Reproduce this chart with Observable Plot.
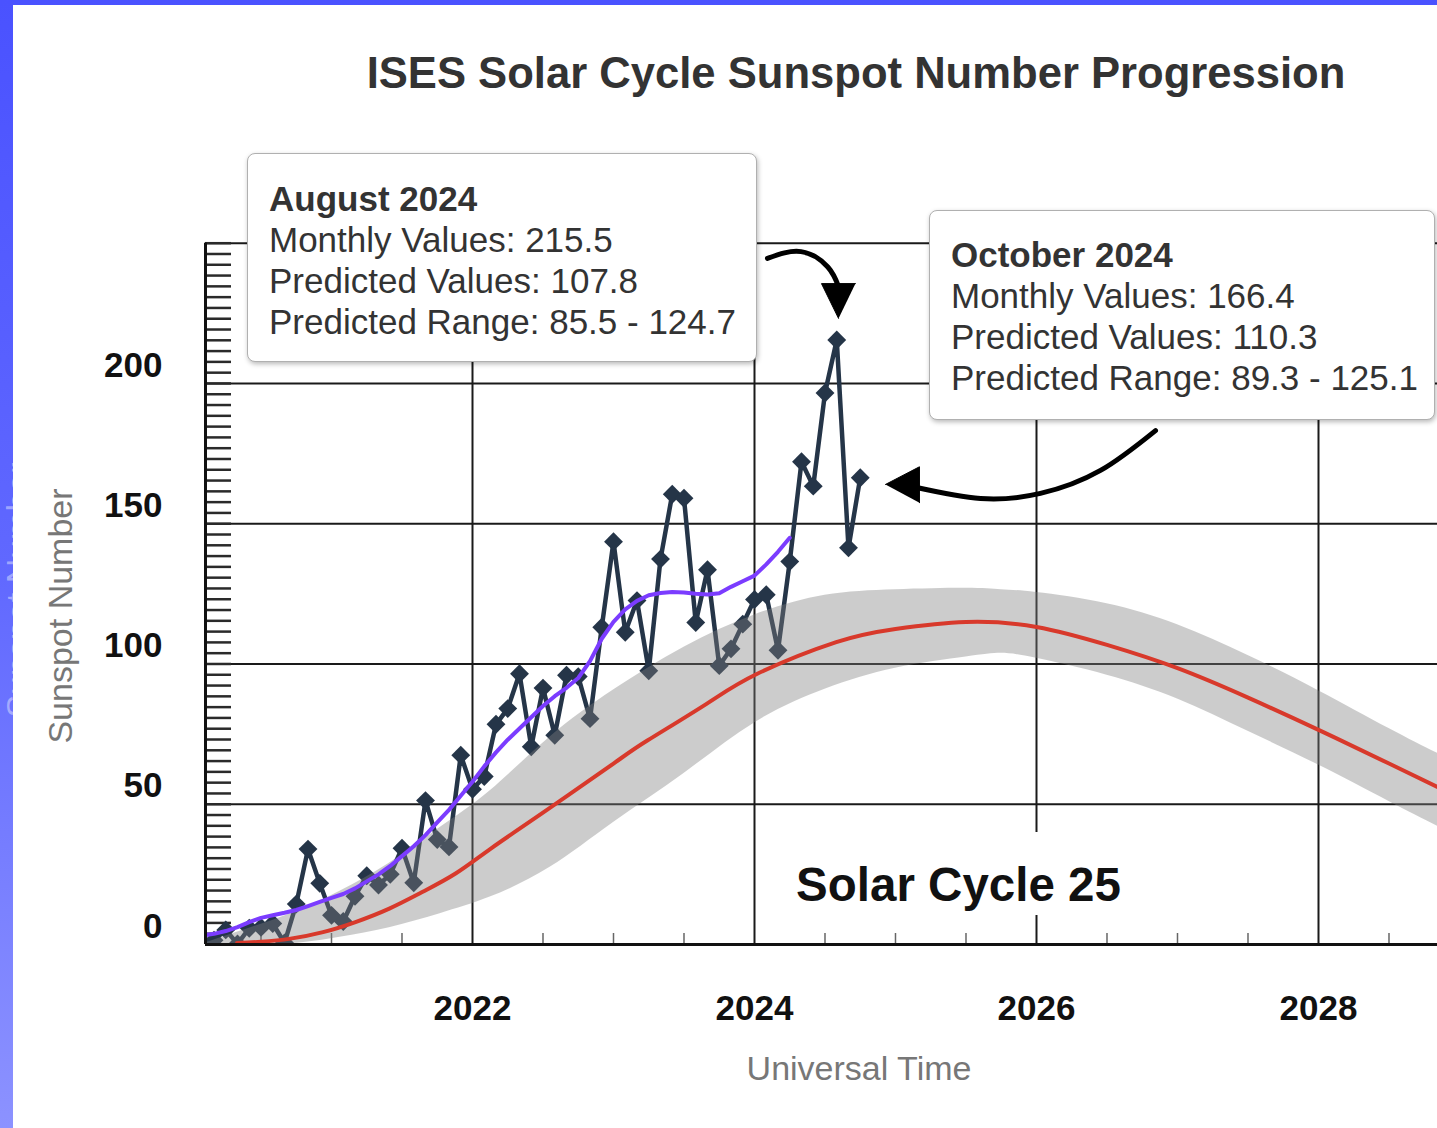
<!DOCTYPE html>
<html>
<head>
<meta charset="utf-8">
<script src="https://cdn.jsdelivr.net/npm/d3@7"></script>
<script src="https://cdn.jsdelivr.net/npm/@observablehq/plot@0.6"></script>
<style>
html,body{margin:0;padding:0;width:1437px;height:1128px;overflow:hidden;}
body{position:relative;background:linear-gradient(to bottom,#4a52ff 0%,#6068ff 50%,#8c92ff 100%);font-family:"Liberation Sans",Arial,Helvetica,sans-serif;}
#ghost{position:absolute;left:18px;top:590px;transform:translate(-50%,-50%) rotate(-90deg);font-size:34px;color:rgba(215,220,255,0.55);white-space:nowrap;z-index:0;}
#panel{position:absolute;left:13px;top:5px;width:1424px;height:1123px;background:#fff;overflow:hidden;z-index:1;}
#chart{position:absolute;left:0;top:0;}
.abs{position:absolute;white-space:nowrap;}
#title{left:243px;width:1200px;top:44px;text-align:center;font-size:43.6px;font-weight:bold;color:#333;line-height:normal;}
.axt{font-size:34px;color:#777;line-height:normal;transform:translate(-50%,-50%);}
#ytitle{left:47px;top:611px;transform:translate(-50%,-50%) rotate(-90deg);}
#xtitle{left:846px;top:1063px;}
#cycle{left:773px;top:827px;width:345px;height:83px;background:#fff;text-align:center;}
#cycle span{display:block;padding-top:25px;font-size:47.5px;font-weight:bold;color:#111;line-height:normal;}
.box{position:absolute;background:#fff;border:1.5px solid #b0b0b0;border-radius:8px;box-shadow:1px 2px 5px rgba(0,0,0,0.28);box-sizing:border-box;color:#333;font-size:35px;line-height:41px;padding-left:21px;white-space:nowrap;}
.box b{font-weight:bold;}
#boxAug{left:234px;top:148px;width:510px;height:209px;padding-top:24px;}
#boxOct{left:916px;top:205px;width:506px;height:210px;padding-top:23px;}
</style>
</head>
<body>
<div id="ghost">Sunspot Number</div>
<div id="panel">
  <div id="chart"></div>
  <div id="title" class="abs">ISES Solar Cycle Sunspot Number Progression</div>
  <div id="ytitle" class="abs axt">Sunspot Number</div>
  <div id="xtitle" class="abs axt">Universal Time</div>
  <div id="cycle" class="abs"><span>Solar Cycle 25</span></div>
  <div id="boxAug" class="box"></div>
  <div id="boxOct" class="box"></div>
</div>
<script>
// ---------- data ----------
// Observed monthly sunspot numbers, Jan 2020 .. Oct 2024
const monthlyStartYear = 2020;
const monthlyValues = [
  6.2, 0.2, 1.5, 5.2, 0.2, 5.8, 6.1, 7.5, 0.6, 14.4, 34.0, 21.8,
  10.4, 8.2, 17.2, 24.5, 21.2, 25.0, 34.3, 22.0, 51.3, 37.4, 34.8, 67.5,
  55.3, 59.9, 78.5, 84.1, 96.5, 70.5, 91.4, 74.6, 96.0, 95.5, 80.5, 113.1,
  143.6, 111.3, 122.6, 97.6, 137.4, 160.5, 159.1, 114.8, 133.6, 99.4, 105.4, 114.2,
  123.0, 124.7, 104.9, 136.5, 172.1, 163.4, 196.6, 215.5, 141.4, 166.4
];
// Smoothed monthly values (purple), Jan 2020 .. Apr 2024
const smoothedValues = [
  2.8, 3.2, 3.8, 4.8, 6.2, 8.0, 9.5, 10.4, 11.3, 12.3, 13.7, 15.2,
  16.6, 18.0, 20.0, 22.5, 25.0, 28.0, 31.5, 35.0, 39.0, 43.5, 48.0, 53.0,
  58.0, 63.5, 68.5, 73.0, 77.0, 81.0, 85.0, 88.5, 91.5, 95.0, 101.0, 109.0,
  115.0, 119.5, 122.5, 124.5, 125.3, 125.7, 125.5, 125.0, 124.8, 125.2, 127.5, 129.5,
  131.5, 135.5, 140.0, 145.0
];
// Predicted values (red line)
const predYears  = [2020.33, 2020.5, 2020.71, 2020.94, 2021.17, 2021.41, 2021.64, 2021.88, 2022.13, 2022.5, 2023.0, 2023.24, 2023.66, 2024.02, 2024.58, 2025.0, 2025.5, 2026.0, 2026.5, 2027.0, 2027.5, 2028.0, 2028.5, 2028.85];
const predValues = [0.5, 1.0, 2.1, 4.4, 8.0, 12.8, 18.6, 25.3, 34.2, 47.0, 64.5, 72.7, 85.8, 96.5, 107.8, 112.5, 115.0, 113.2, 106.8, 98.5, 88.0, 76.5, 64.5, 56.0];
// Predicted range (grey band)
const bandYears = [2020.1, 2020.33, 2020.71, 2021.06, 2021.41, 2021.77, 2022.13, 2022.55, 2023.0, 2023.5, 2024.0, 2024.5, 2025.0, 2025.5, 2025.75, 2026.0, 2026.5, 2027.0, 2027.5, 2028.0, 2028.5, 2028.85];
const bandHigh  = [0.5, 4.4, 11, 19, 29, 41.7, 55, 74, 90.7, 106, 117.5, 124.5, 126.5, 127, 126.5, 125.5, 121.5, 114, 103, 90.5, 77, 68];
const bandLow   = [0, 0, 0.3, 2.6, 6, 11, 17, 27.5, 43.5, 61, 79, 91, 98.5, 102.5, 103.8, 102, 96, 87.5, 76, 64, 51, 42];
// Axes
const xDomain = [2020.1064, 2028.844];
const yDomain = [0, 250];
const xTicks = [2022, 2024, 2026, 2028];
const xTickLabels = ["2022", "2024", "2026", "2028"];
const xMinorTicks = [2020.5, 2021, 2021.5, 2022.5, 2023, 2023.5, 2024.5, 2025, 2025.5, 2026.5, 2027, 2027.5, 2028.5];
const yTicks = [0, 50, 100, 150, 200];
const yTickLabels = ["0", "50", "100", "150", "200"];
const yGrid = [50, 100, 150, 200, 250];
// Annotations
const annotations = [
  {title: "August 2024",  lines: ["Monthly Values: 215.5", "Predicted Values: 107.8", "Predicted Range: 85.5 - 124.7"]},
  {title: "October 2024", lines: ["Monthly Values: 166.4", "Predicted Values: 110.3", "Predicted Range: 89.3 - 125.1"]}
];
const arrow1 = [{x: 2024.092, y: 244.6}, {x: 2024.33, y: 247.0}, {x: 2024.52, y: 241.5}, {x: 2024.596, y: 234.5}];
const head1  = [{x: 2024.596, y: 223.2}, {x: 2024.475, y: 235.6}, {x: 2024.716, y: 235.6}];
const arrow2 = [{x: 2026.844, y: 183.2}, {x: 2026.454, y: 169.0}, {x: 2026.028, y: 160.8}, {x: 2025.603, y: 159.0}, {x: 2025.15, y: 162.9}];
const head2  = [{x: 2024.929, y: 164.0}, {x: 2025.17, y: 170.3}, {x: 2025.17, y: 157.5}];

// ---------- tables ----------
const monthly = monthlyValues.map((v, i) => ({t: monthlyStartYear + i / 12, v}));
const smoothed = smoothedValues.map((v, i) => ({t: monthlyStartYear + i / 12, v}));
const pred = predYears.map((t, i) => ({t, v: predValues[i]}));
const band = bandYears.map((t, i) => ({t, lo: bandLow[i], hi: bandHigh[i]}));
const yMinorTicks = d3.range(0, 250.001, 50 / 13);
const tickLenYears = 26 / 141;
const tickLenY = 11 / 2.805;

const navy = "#253548", red = "#d8392b", purple = "#7b3cff";

const chart = Plot.plot({
  width: 1424,
  height: 1123,
  marginLeft: 192,
  marginRight: 0,
  marginTop: 237.7,
  marginBottom: 184,
  x: {domain: xDomain, axis: null},
  y: {domain: yDomain, axis: null},
  style: {fontFamily: "'Liberation Sans', Arial, Helvetica, sans-serif", background: "transparent", overflow: "visible"},
  marks: [
    // grid
    Plot.ruleY(yGrid, {stroke: "#1a1a1a", strokeWidth: 2}),
    Plot.ruleX(xTicks, {y1: 0, y2: 250, stroke: "#1a1a1a", strokeWidth: 2}),
    // minor ticks
    Plot.ruleY(yMinorTicks, {x1: xDomain[0], x2: xDomain[0] + tickLenYears, stroke: "#2a2a2a", strokeWidth: 2.5}),
    Plot.ruleX(xMinorTicks, {y1: 0, y2: tickLenY, stroke: "#666", strokeWidth: 1.5}),
    // observed monthly values
    Plot.line(monthly, {x: "t", y: "v", stroke: navy, strokeWidth: 4.5, clip: true}),
    Plot.dot(monthly, {x: "t", y: "v", symbol: "diamond2", r: 8.5, fill: navy, clip: true}),
    // predicted range band (translucent over the data)
    Plot.areaY(band, {x: "t", y1: "lo", y2: "hi", fill: "#808080", fillOpacity: 0.4, curve: "natural", clip: true}),
    // predicted values
    Plot.line(pred, {x: "t", y: "v", stroke: red, strokeWidth: 4, curve: "natural", clip: true}),
    // smoothed values
    Plot.line(smoothed, {x: "t", y: "v", stroke: purple, strokeWidth: 4, clip: true}),
    // frame
    Plot.ruleY([0], {stroke: "#111", strokeWidth: 3}),
    Plot.ruleX([xDomain[0]], {y1: 0, y2: 250, stroke: "#111", strokeWidth: 3}),
    // axis labels
    Plot.axisY(yTicks, {anchor: "left", tickSize: 0, tickPadding: 43, dy: -18, tickFormat: (d, i) => yTickLabels[i], fontSize: 35, fontWeight: "bold", fill: "#111"}),
    Plot.axisX(xTicks, {anchor: "bottom", tickSize: 0, tickPadding: 51, tickFormat: (d, i) => xTickLabels[i], fontSize: 35, fontWeight: "bold", fill: "#111"}),
    // annotation arrows
    Plot.line(arrow1, {x: "x", y: "y", stroke: "#000", strokeWidth: 5, curve: "natural"}),
    Plot.line(head1, {x: "x", y: "y", fill: "#000", stroke: "#000", strokeWidth: 1}),
    Plot.line(arrow2, {x: "x", y: "y", stroke: "#000", strokeWidth: 5, curve: "natural"}),
    Plot.line(head2, {x: "x", y: "y", fill: "#000", stroke: "#000", strokeWidth: 1})
  ]
});
document.getElementById("chart").appendChild(chart);

function fillBox(id, a) {
  const el = document.getElementById(id);
  const b = document.createElement("b");
  b.textContent = a.title;
  el.appendChild(b);
  a.lines.forEach(l => {
    el.appendChild(document.createElement("br"));
    el.appendChild(document.createTextNode(l));
  });
}
fillBox("boxAug", annotations[0]);
fillBox("boxOct", annotations[1]);
</script>
</body>
</html>
